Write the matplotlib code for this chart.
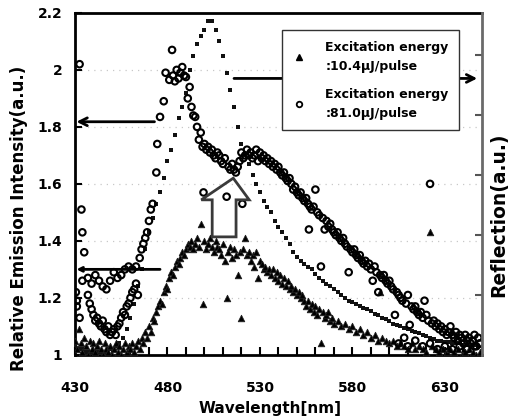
import matplotlib
matplotlib.use("Agg")
import matplotlib.pyplot as plt
from matplotlib.patches import Polygon
from matplotlib.lines import Line2D

plt.rcParams['font.family'] = ['DejaVu Sans']

# ---------------- data ----------------
x_ticks = [430, 480, 530, 580, 630]
y_ticks = [1, 1.2, 1.4, 1.6, 1.8, 2, 2.2]
y_tick_labels = ["1", "1.2", "1.4", "1.6", "1.8", "2", "2.2"]

refl_wl = [430, 432, 434, 436, 438, 440, 442, 444, 446, 448, 450, 452, 454, 456, 458,
           460, 462, 464, 466, 468, 470, 472, 474, 476, 478, 480, 482, 484, 486, 488,
           490, 492, 494, 496, 498, 500, 502, 504, 506, 508, 510, 512, 514, 516, 518,
           520, 522, 524, 526, 528, 530, 532, 534, 536, 538, 540, 542, 544, 546, 548,
           550, 552, 554, 556, 558, 560, 562, 564, 566, 568, 570, 572, 574, 576, 578,
           580, 582, 584, 586, 588, 590, 592, 594, 596, 598, 600, 602, 604, 606, 608,
           610, 612, 614, 616, 618, 620, 622, 624, 626, 628, 630, 632, 634, 636, 638,
           640, 642, 644, 646, 648]
refl_val = [1.03, 1.02, 1.02, 1.01, 1.01, 1.01, 1.01, 1.01, 1.01, 1.02, 1.02, 1.03, 1.04, 1.06, 1.09,
            1.13, 1.18, 1.24, 1.30, 1.37, 1.43, 1.48, 1.53, 1.57, 1.62, 1.68, 1.72, 1.77, 1.83, 1.87,
            1.92, 2.00, 2.05, 2.09, 2.12, 2.14, 2.17, 2.17, 2.14, 2.10, 2.05, 1.99, 1.93, 1.87, 1.80,
            1.74, 1.70, 1.67, 1.63, 1.60, 1.57, 1.54, 1.52, 1.50, 1.47, 1.45, 1.43, 1.41, 1.39, 1.36,
            1.345, 1.33, 1.32, 1.31, 1.30, 1.285, 1.27, 1.26, 1.25, 1.24, 1.23, 1.22, 1.21, 1.20, 1.19,
            1.185, 1.18, 1.17, 1.165, 1.16, 1.155, 1.145, 1.14, 1.13, 1.125, 1.12, 1.11, 1.105, 1.10, 1.095,
            1.09, 1.085, 1.08, 1.075, 1.07, 1.065, 1.06, 1.055, 1.05, 1.05, 1.045, 1.045, 1.04, 1.04, 1.04,
            1.035, 1.035, 1.035, 1.035, 1.03]

low_points = [  # Excitation energy 10.4 uJ/pulse (triangles)
    (430, 1.05), (431, 1.02), (432, 1.09), (433, 1.04), (434, 1.01), (435, 1.06), (436, 1.03),
    (437, 1.00), (438, 1.05), (439, 1.02), (440, 1.04), (441, 1.01), (442, 1.03), (443, 1.05),
    (444, 1.02), (445, 1.00), (446, 1.04), (447, 1.02), (448, 1.01), (449, 1.03), (450, 1.00),
    (451, 1.02), (452, 1.04), (453, 1.01), (454, 1.03), (455, 1.00), (456, 1.02), (457, 1.04),
    (458, 1.01), (459, 1.03), (460, 1.02), (461, 1.04), (462, 1.01), (463, 1.03), (464, 1.05),
    (465, 1.02), (466, 1.06), (467, 1.04), (468, 1.08), (469, 1.06), (470, 1.10), (471, 1.08),
    (472, 1.13), (473, 1.12), (474, 1.15), (475, 1.17), (476, 1.19), (477, 1.18), (478, 1.22),
    (479, 1.24), (480, 1.23), (481, 1.27), (482, 1.29), (483, 1.28), (484, 1.31), (485, 1.33),
    (486, 1.32), (487, 1.34), (488, 1.36), (489, 1.35), (490, 1.37), (491, 1.39), (492, 1.38),
    (493, 1.40), (494, 1.37), (495, 1.39), (496, 1.41), (497, 1.38), (498, 1.46), (499, 1.18),
    (500, 1.40), (501, 1.37), (502, 1.39), (503, 1.41), (504, 1.38), (505, 1.36), (506, 1.40),
    (507, 1.38), (508, 1.37), (509, 1.35), (510, 1.39), (511, 1.33), (512, 1.20), (513, 1.36),
    (514, 1.38), (515, 1.34), (516, 1.37), (517, 1.35), (518, 1.28), (519, 1.36), (520, 1.13),
    (521, 1.37), (522, 1.41), (523, 1.35), (524, 1.36), (525, 1.33), (526, 1.35), (527, 1.31),
    (528, 1.36), (529, 1.27), (530, 1.33), (531, 1.32), (532, 1.30), (533, 1.31), (534, 1.29),
    (535, 1.30), (536, 1.28), (537, 1.30), (538, 1.27), (539, 1.29), (540, 1.26), (541, 1.28),
    (542, 1.25), (543, 1.27), (544, 1.24), (545, 1.26), (546, 1.23), (547, 1.24), (548, 1.22),
    (549, 1.23), (550, 1.21), (551, 1.22), (552, 1.20), (553, 1.21), (554, 1.19), (555, 1.17),
    (556, 1.19), (557, 1.16), (558, 1.18), (559, 1.15), (560, 1.17), (561, 1.14), (562, 1.16),
    (563, 1.04), (564, 1.15), (565, 1.13), (566, 1.14), (567, 1.15), (568, 1.12), (569, 1.13),
    (570, 1.11), (572, 1.12), (574, 1.10), (576, 1.11), (578, 1.09), (580, 1.10), (582, 1.08),
    (584, 1.09), (586, 1.07), (588, 1.08), (590, 1.06), (592, 1.07), (594, 1.05), (595, 1.22),
    (596, 1.06), (598, 1.05), (600, 1.04), (602, 1.05), (604, 1.03), (606, 1.04), (608, 1.03),
    (610, 1.02), (612, 1.04), (614, 1.02), (616, 1.03), (618, 1.02), (620, 1.01), (622, 1.43),
    (623, 1.03), (625, 1.02), (627, 1.01), (629, 1.02), (631, 1.01), (633, 1.02), (635, 1.01),
    (637, 1.02), (639, 1.00), (641, 1.01), (643, 1.02), (645, 1.01), (647, 1.00), (649, 1.01)]

high_points = [  # Excitation energy 81.0 uJ/pulse (open circles)
    (432.5, 2.02), (433.5, 1.51), (434, 1.43), (435, 1.36), (434, 1.26), (431, 1.19), (432.5, 1.13),
    (431, 1.17), (430.5, 1.22), (437, 1.21), (438, 1.18), (439, 1.16), (440, 1.14), (441, 1.12),
    (442, 1.13), (443, 1.11), (444, 1.10), (445, 1.12), (446, 1.09), (447, 1.08), (448, 1.10),
    (449, 1.07), (450, 1.08), (451, 1.09), (452, 1.07), (453, 1.10), (454, 1.11), (455, 1.13),
    (456, 1.15), (457, 1.14), (458, 1.17), (459, 1.18), (460, 1.20), (461, 1.22), (462, 1.23),
    (463, 1.25), (464, 1.21), (437, 1.27), (439, 1.25), (441, 1.28), (443, 1.26), (445, 1.24),
    (447, 1.23), (449, 1.26), (451, 1.29), (453, 1.27), (455, 1.28), (457, 1.30), (459, 1.31),
    (461, 1.30), (463, 1.31), (465, 1.34), (466, 1.37), (467, 1.39), (468, 1.41), (469, 1.43),
    (470, 1.47), (471, 1.51), (472, 1.53), (474, 1.64), (474.5, 1.74), (476, 1.835), (478, 1.89),
    (479, 1.99), (481, 1.965), (482.5, 2.07), (483, 1.98), (484, 1.96), (485, 2.00), (486, 1.97),
    (487, 1.99), (488, 2.01), (489, 1.98), (490, 1.975), (491, 1.90), (492, 1.94), (493, 1.87),
    (494, 1.84), (495, 1.835), (496, 1.80), (497, 1.755), (498, 1.78), (499, 1.73), (499.5, 1.57),
    (500, 1.74), (501, 1.72), (502, 1.73), (503, 1.71), (504, 1.72), (505, 1.70), (506, 1.69),
    (507, 1.71), (508, 1.70), (509, 1.68), (510, 1.67), (511, 1.69), (512, 1.555), (513, 1.66),
    (514, 1.65), (515, 1.67), (516, 1.65), (517, 1.64), (518, 1.66), (519, 1.68), (520, 1.71),
    (520.5, 1.53), (521, 1.69), (522, 1.70), (523, 1.72), (524, 1.70), (525, 1.71), (526, 1.69),
    (527, 1.70), (528, 1.72), (529, 1.68), (530, 1.71), (531, 1.69), (532, 1.70), (533, 1.68),
    (534, 1.69), (535, 1.67), (536, 1.68), (537, 1.66), (538, 1.67), (539, 1.65), (540, 1.66),
    (541, 1.64), (542, 1.63), (543, 1.64), (544, 1.62), (545, 1.61), (546, 1.62), (547, 1.60),
    (548, 1.58), (549, 1.59), (550, 1.57), (551, 1.56), (552, 1.57), (553, 1.55), (554, 1.54),
    (555, 1.55), (556, 1.53), (556.5, 1.44), (557, 1.52), (558, 1.51), (559, 1.52), (560, 1.58),
    (561, 1.50), (562, 1.49), (563, 1.31), (564, 1.48), (565, 1.44), (566, 1.47), (567, 1.45),
    (568, 1.46), (569, 1.44), (570, 1.43), (571, 1.42), (572, 1.43), (573, 1.41), (574, 1.40),
    (575, 1.41), (576, 1.39), (577, 1.38), (578, 1.29), (579, 1.37), (580, 1.36), (581, 1.37),
    (582, 1.35), (583, 1.34), (584, 1.35), (585, 1.33), (586, 1.32), (587, 1.33), (588, 1.31),
    (589, 1.32), (590, 1.30), (591, 1.26), (592, 1.31), (593, 1.29), (594, 1.22), (595, 1.28),
    (596, 1.27), (597, 1.28), (598, 1.26), (599, 1.25), (600, 1.26), (601, 1.24), (602, 1.23),
    (603, 1.14), (604, 1.22), (605, 1.21), (606, 1.20), (607, 1.19), (608, 1.06), (609, 1.18),
    (610, 1.21), (611, 1.105), (612, 1.17), (613, 1.16), (614, 1.17), (615, 1.15), (616, 1.14),
    (617, 1.15), (618, 1.13), (619, 1.19), (620, 1.14), (621, 1.12), (622, 1.60), (623, 1.11),
    (624, 1.12), (625, 1.10), (626, 1.11), (627, 1.09), (628, 1.10), (629, 1.08), (630, 1.09),
    (631, 1.07), (632, 1.08), (633, 1.10), (634, 1.07), (635, 1.06), (636, 1.08), (637, 1.05),
    (638, 1.07), (639, 1.06), (640, 1.04), (641, 1.07), (642, 1.05), (643, 1.06), (644, 1.04),
    (645, 1.05), (646, 1.07), (647, 1.03), (648, 1.06), (649, 1.04), (605, 1.04), (610, 1.03),
    (614, 1.05), (618, 1.03), (622, 1.04), (626, 1.02), (630, 1.03), (634, 1.02), (638, 1.03),
    (642, 1.02), (646, 1.03), (649, 1.04)]

legend_labels = ["Excitation energy\n:10.4\u03bcJ/pulse", "Excitation energy\n:81.0\u03bcJ/pulse"]

low_wl = [p[0] for p in low_points]
low_val = [p[1] for p in low_points]
high_wl = [p[0] for p in high_points]
high_val = [p[1] for p in high_points]

# ---------------- figure ----------------
fig = plt.figure(figsize=(5.17, 4.16), dpi=100)
ax = fig.add_axes([0.145, 0.147, 0.787, 0.822])

ax.set_xlim(430, 650)
ax.set_ylim(1, 2.2)

for yv in y_ticks[1:-1]:
    ax.axhline(yv, color='#c8c8c8', lw=0.9, ls=(0, (1, 4)), zorder=0)

ax.scatter(refl_wl, refl_val, s=7, marker='s', color='#111111', linewidths=0, zorder=3)
ax.scatter(low_wl, low_val, s=22, marker='^', color='black', edgecolors='#202020',
           linewidths=0.6, zorder=4)
ax.scatter(high_wl, high_val, s=22, marker='o', facecolors='none', edgecolors='black',
           linewidths=1.5, zorder=4)

# arrows
ax.annotate('', xy=(430.8, 1.818), xytext=(473, 1.818),
            arrowprops=dict(arrowstyle='->', lw=2, color='black', mutation_scale=14,
                            shrinkA=0, shrinkB=0), zorder=5)
ax.annotate('', xy=(430.8, 1.30), xytext=(476, 1.30),
            arrowprops=dict(arrowstyle='->', lw=2, color='black', mutation_scale=7,
                            shrinkA=0, shrinkB=0), zorder=5)
ax.annotate('', xy=(647.5, 1.97), xytext=(516, 1.97),
            arrowprops=dict(arrowstyle='->', lw=2, color='black', mutation_scale=14,
                            shrinkA=0, shrinkB=0), zorder=5)

# hollow up arrow
ax.add_patch(Polygon([(515.6, 1.62), (524.2, 1.544), (517.1, 1.544), (517.1, 1.414),
                      (504.2, 1.414), (504.2, 1.544), (498.3, 1.544)], closed=True,
                     facecolor='none', edgecolor='#3a3a3a', lw=2, zorder=5))

# axes styling
for side in ['left', 'top', 'bottom']:
    ax.spines[side].set_linewidth(2)
    ax.spines[side].set_color('black')
ax.spines['right'].set_visible(False)

ax.set_xticks(range(430, 651, 10))
ax.set_xticklabels([str(v) if v in x_ticks else '' for v in range(430, 651, 10)])
ax.set_yticks(y_ticks)
ax.set_yticklabels(y_tick_labels)
ax.tick_params(axis='x', direction='in', length=6, width=1.5, pad=19, labelsize=10)
ax.tick_params(axis='y', direction='in', length=5, width=1.5, pad=9, labelsize=10)
for lab in ax.get_xticklabels() + ax.get_yticklabels():
    lab.set_fontweight('bold')

ax.set_xlabel('Wavelength[nm]', fontsize=11, fontweight='bold')
ax.xaxis.set_label_coords(0.48, -0.135)
ax.set_ylabel('Relative Emission Intensity(a.u.)', fontsize=12, fontweight='bold')
ax.yaxis.set_label_coords(-0.115, 0.40)

ax2 = ax.twinx()
ax2.set_ylim(0, 5.7)
ax2.set_yticks([1, 2, 3, 4, 5])
ax2.set_yticklabels([])
ax2.tick_params(axis='y', direction='in', length=5, width=1.5, color='#555555')
for side in ['left', 'top', 'bottom']:
    ax2.spines[side].set_visible(False)
ax2.spines['right'].set_linewidth(2)
ax2.spines['right'].set_color('#6a6a6a')
ax2.set_ylabel('Reflection(a.u.)', fontsize=13.5, fontweight='bold')
ax2.yaxis.set_label_coords(1.018, 0.41)

handles = [Line2D([], [], ls='none', marker='^', color='black', markersize=4),
           Line2D([], [], ls='none', marker='o', markerfacecolor='none',
                  markeredgecolor='black', markeredgewidth=1.3, markersize=4)]
leg = ax2.legend(handles, legend_labels, loc='upper left', bbox_to_anchor=(0.509, 0.950),
                 borderaxespad=0, fancybox=False, framealpha=1, edgecolor='#333333',
                 prop={'weight': 'bold', 'size': 9}, handlelength=1.0, handletextpad=1.6,
                 labelspacing=1.2, borderpad=0.85)
for t in leg.get_texts():
    t.set_linespacing(1.6)
leg.get_frame().set_linewidth(1)
leg.set_zorder(10)

fig.savefig('out.png', dpi=100)
